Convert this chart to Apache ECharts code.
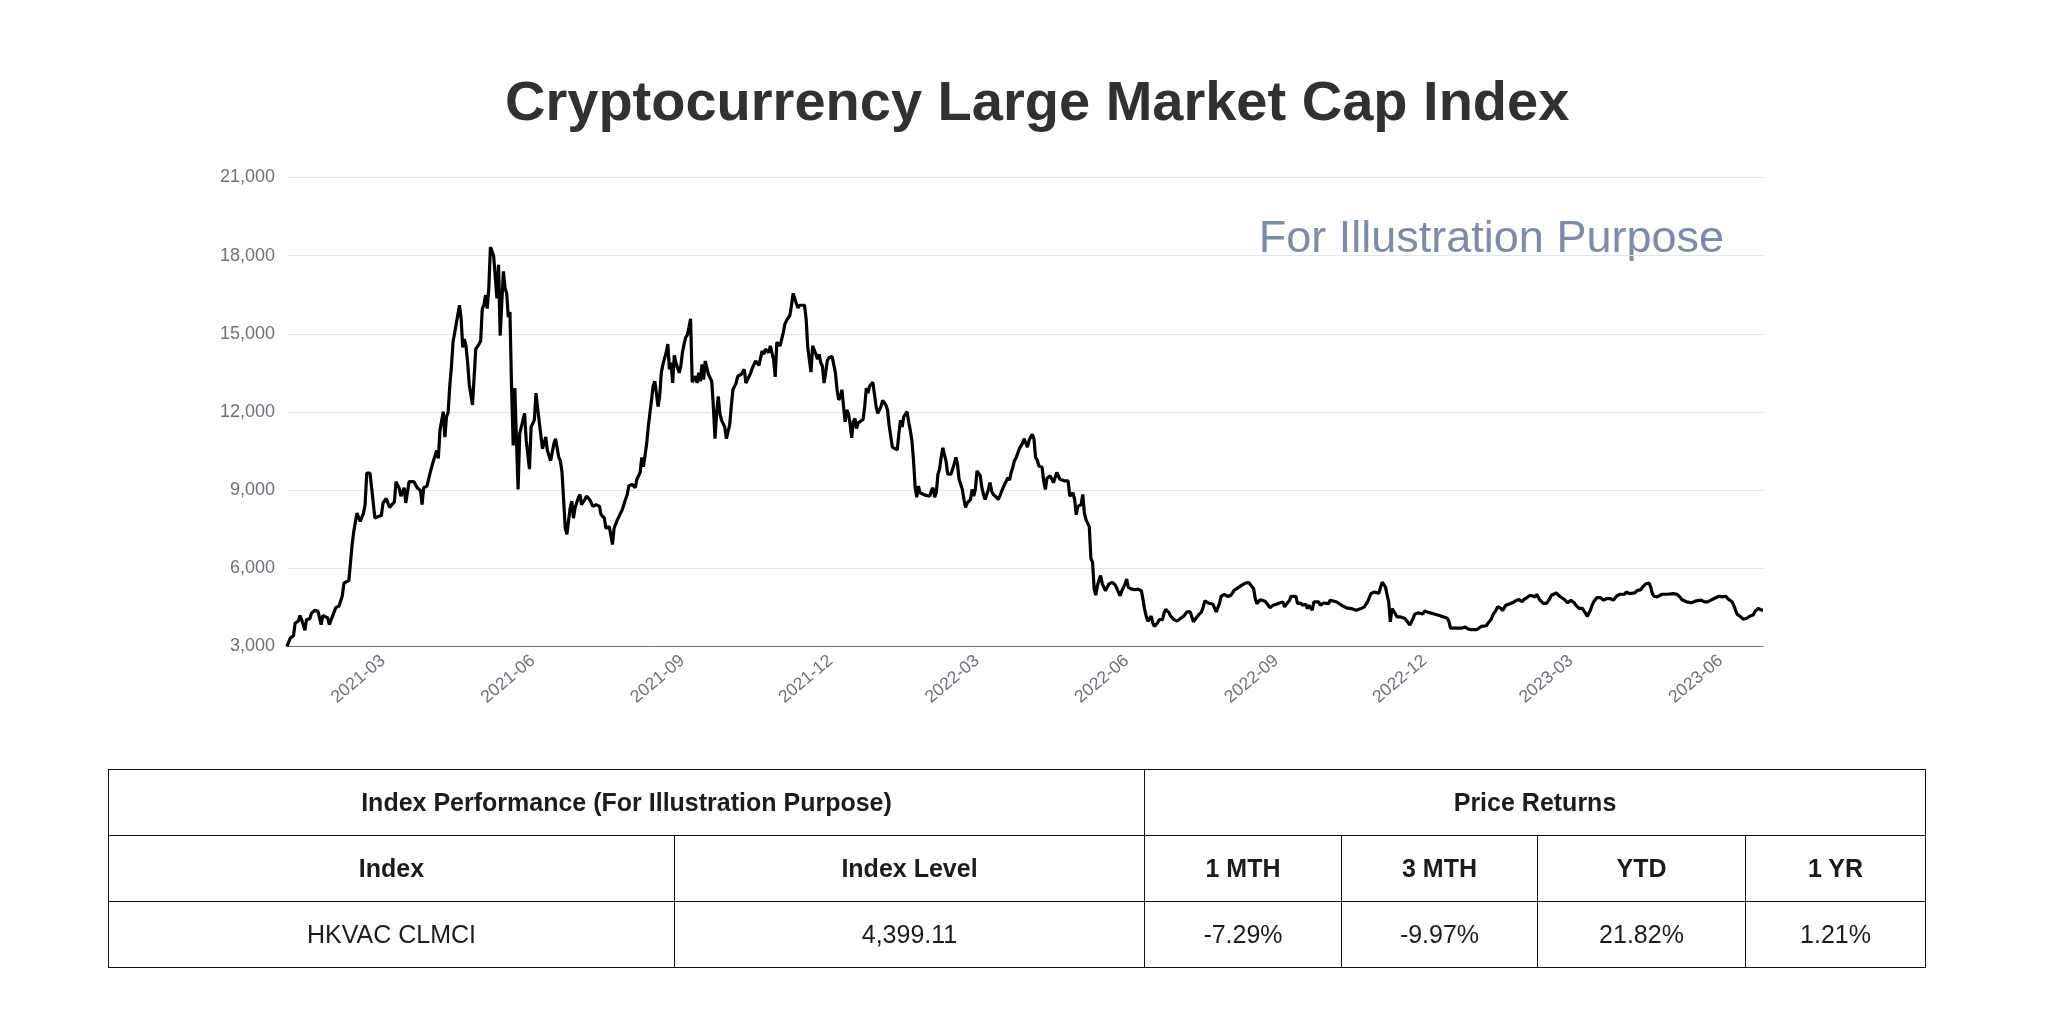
<!DOCTYPE html>
<html>
<head>
<meta charset="utf-8">
<script src="https://cdn.jsdelivr.net/npm/echarts@6/dist/echarts.min.js"></script>
<style>
html,body{margin:0;padding:0;background:#fff;width:2048px;height:1026px;overflow:hidden;font-family:"Liberation Sans",Arial,Helvetica,sans-serif;}
#chart{position:absolute;left:0;top:0;width:2048px;height:1026px;}
#perf{position:absolute;left:108px;top:769px;width:1817px;border-collapse:collapse;table-layout:fixed;font-size:25px;color:#1c1c1c;}
#perf td,#perf th{border:1.5px solid #111;text-align:center;padding:0;}
#perf tr{height:66px;}
#perf th{font-weight:bold;}
</style>
</head>
<body>
<div id="chart"></div>
<table id="perf"></table>
<script>
// ---------- data ----------
const chartTitle = 'Cryptocurrency Large Market Cap Index';
const watermarkText = 'For Illustration Purpose';
const startDate = '2021-01-01';
const endDate = '2023-06-27';
const xTickLabels = ['2021-03','2021-06','2021-09','2021-12','2022-03','2022-06','2022-09','2022-12','2023-03','2023-06'];
const yTicks = [3000, 6000, 9000, 12000, 15000, 18000, 21000];

const level2021H1 = [['2021-01-01',3000],['2021-01-03',3320],['2021-01-05',3410],['2021-01-06',3900],['2021-01-08',3970],['2021-01-09',4190],['2021-01-10',4035],['2021-01-12',3620],['2021-01-13',4035],['2021-01-15',4060],['2021-01-16',4270],['2021-01-18',4385],['2021-01-20',4360],['2021-01-22',3840],['2021-01-23',4190],['2021-01-26',4100],['2021-01-27',3840],['2021-01-29',4165],['2021-01-31',4490],['2021-02-02',4555],['2021-02-04',4945],['2021-02-05',5436],['2021-02-08',5527],['2021-02-10',6889],['2021-02-11',7407],['2021-02-13',8121],['2021-02-15',7797],['2021-02-16',7732],['2021-02-17',8121],['2021-02-18',8445],['2021-02-19',9651],['2021-02-21',9651],['2021-02-22',9094],['2021-02-24',7926],['2021-02-25',7861],['2021-02-26',7991],['2021-02-28',8030],['2021-03-01',8510],['2021-03-03',8678],['2021-03-05',8341],['2021-03-06',8290],['2021-03-08',8549],['2021-03-09',9327],['2021-03-11',9068],['2021-03-12',8769],['2021-03-14',9094],['2021-03-15',8510],['2021-03-17',9327],['2021-03-20',9327],['2021-03-22',9094],['2021-03-24',8990],['2021-03-25',8445],['2021-03-26',9094],['2021-03-28',9158],['2021-03-30',9677],['2021-04-01',10131],['2021-04-03',10520],['2021-04-04',10222],['2021-04-05',11298],['2021-04-07',12012],['2021-04-08',11039],['2021-04-09',11817],['2021-04-10',11973],['2021-04-11',12985],['2021-04-12',13698],['2021-04-13',14671],['2021-04-15',15384],['2021-04-17',16097],['2021-04-18',15579],['2021-04-19',14476],['2021-04-20',14800],['2021-04-21',14541],['2021-04-22',13892],['2021-04-23',13049],['2021-04-24',12985],['2021-04-25',12271],['2021-04-26',12206],['2021-04-27',14411],['2021-04-29',14606],['2021-04-30',14735],['2021-05-01',15968],['2021-05-02',16097],['2021-05-03',16486],['2021-05-04',15968],['2021-05-05',16746],['2021-05-06',18328],['2021-05-07',18173],['2021-05-08',17978],['2021-05-09',17978],['2021-05-10',16357],['2021-05-11',17654],['2021-05-12',14930],['2021-05-13',16227],['2021-05-14',17394],['2021-05-15',16746],['2021-05-16',16551],['2021-05-17',15643],['2021-05-18',15838],['2021-05-19',12920],['2021-05-20',10715],['2021-05-21',12920],['2021-05-22',10909],['2021-05-23',9029],['2021-05-24',11169],['2021-05-25',11169],['2021-05-27',11947],['2021-05-28',10909],['2021-05-30',9807],['2021-05-31',11428],['2021-06-02',11688],['2021-06-03',12725],['2021-06-05',11623],['2021-06-06',11558],['2021-06-07',10585],['2021-06-09',11039],['2021-06-10',10520],['2021-06-12',10131],['2021-06-13',10131],['2021-06-14',10780],['2021-06-15',10974],['2021-06-17',10261],['2021-06-18',10131],['2021-06-19',9677],['2021-06-20',9612],['2021-06-21',7537],['2021-06-22',7304],['2021-06-24',8315],['2021-06-25',8575],['2021-06-26',7926],['2021-06-27',8315],['2021-06-29',8704],['2021-06-30',8834]];

const level2021H2 = [['2021-07-01',8445],['2021-07-03',8640],['2021-07-04',8769],['2021-07-06',8640],['2021-07-08',8380],['2021-07-10',8445],['2021-07-12',8380],['2021-07-13',8056],['2021-07-15',7926],['2021-07-16',7537],['2021-07-17',7472],['2021-07-18',7602],['2021-07-19',7278],['2021-07-20',6915],['2021-07-21',7537],['2021-07-23',7861],['2021-07-25',8121],['2021-07-26',8250],['2021-07-28',8640],['2021-07-29',8808],['2021-07-30',9158],['2021-08-01',9223],['2021-08-03',9094],['2021-08-04',9418],['2021-08-06',9677],['2021-08-07',10261],['2021-08-08',9898],['2021-08-09',10326],['2021-08-10',10780],['2021-08-11',11428],['2021-08-12',11364],['2021-08-13',12466],['2021-08-14',12985],['2021-08-15',13179],['2021-08-16',12725],['2021-08-17',12206],['2021-08-18',12595],['2021-08-19',13503],['2021-08-20',13828],['2021-08-21',13892],['2021-08-22',14282],['2021-08-23',14606],['2021-08-24',13633],['2021-08-25',13892],['2021-08-26',13114],['2021-08-27',14178],['2021-08-28',13892],['2021-08-30',13503],['2021-08-31',13763],['2021-09-01',14282],['2021-09-02',14606],['2021-09-03',14865],['2021-09-04',14956],['2021-09-05',15254],['2021-09-06',15579],['2021-09-07',13140],['2021-09-09',13374],['2021-09-10',13114],['2021-09-11',13503],['2021-09-12',13179],['2021-09-13',13828],['2021-09-14',13244],['2021-09-15',13957],['2021-09-16',13698],['2021-09-17',13438],['2021-09-18',13374],['2021-09-19',13179],['2021-09-20',12206],['2021-09-21',10974],['2021-09-22',11947],['2021-09-23',12595],['2021-09-24',11947],['2021-09-25',11688],['2021-09-27',11428],['2021-09-28',10974],['2021-09-30',11493],['2021-10-01',12206],['2021-10-02',12855],['2021-10-03',12985],['2021-10-04',13114],['2021-10-05',13374],['2021-10-07',13438],['2021-10-08',13374],['2021-10-09',13633],['2021-10-10',13114],['2021-10-11',13179],['2021-10-13',13503],['2021-10-14',13698],['2021-10-15',13828],['2021-10-16',13957],['2021-10-17',13892],['2021-10-18',13789],['2021-10-19',13828],['2021-10-20',14346],['2021-10-21',14217],['2021-10-22',14411],['2021-10-23',14411],['2021-10-24',14282],['2021-10-25',14541],['2021-10-26',14541],['2021-10-27',14022],['2021-10-28',13348],['2021-10-29',14671],['2021-10-30',14735],['2021-10-31',14541],['2021-11-01',14800],['2021-11-02',15060],['2021-11-03',15384],['2021-11-04',15514],['2021-11-05',15579],['2021-11-06',15708],['2021-11-07',16097],['2021-11-08',16551],['2021-11-09',16512],['2021-11-10',16162],['2021-11-11',15994],['2021-11-12',16097],['2021-11-13',16032],['2021-11-15',16097],['2021-11-16',15579],['2021-11-17',14476],['2021-11-18',14411],['2021-11-19',13529],['2021-11-20',14541],['2021-11-21',14606],['2021-11-22',14217],['2021-11-23',14022],['2021-11-24',14217],['2021-11-25',13892],['2021-11-26',13763],['2021-11-27',13114],['2021-11-28',13503],['2021-11-29',13957],['2021-11-30',14087],['2021-12-02',14126],['2021-12-03',14087],['2021-12-04',13503],['2021-12-05',12855],['2021-12-06',12466],['2021-12-07',12569],['2021-12-08',12855],['2021-12-09',12206],['2021-12-10',11623],['2021-12-11',12077],['2021-12-12',11947],['2021-12-13',11558],['2021-12-14',11013],['2021-12-15',11623],['2021-12-16',11752],['2021-12-17',11363],['2021-12-18',11584],['2021-12-19',11623],['2021-12-21',11713],['2021-12-22',12206],['2021-12-23',12920],['2021-12-24',12725],['2021-12-25',12985],['2021-12-27',13140],['2021-12-28',13114],['2021-12-29',12206],['2021-12-30',11947],['2021-12-31',11921]];

const level2022H1 = [['2022-01-01',12206],['2022-01-02',12440],['2022-01-04',12271],['2022-01-05',12077],['2022-01-06',11493],['2022-01-07',11428],['2022-01-08',10650],['2022-01-09',10585],['2022-01-11',10546],['2022-01-12',11169],['2022-01-13',11688],['2022-01-14',11428],['2022-01-15',11817],['2022-01-17',12012],['2022-01-18',11623],['2022-01-19',11298],['2022-01-20',10909],['2022-01-21',10131],['2022-01-22',9094],['2022-01-23',8730],['2022-01-24',9158],['2022-01-25',8899],['2022-01-26',8860],['2022-01-28',8808],['2022-01-29',8834],['2022-01-31',8769],['2022-02-01',8990],['2022-02-02',9094],['2022-02-03',8730],['2022-02-04',8899],['2022-02-05',9612],['2022-02-06',9807],['2022-02-07',10261],['2022-02-08',10624],['2022-02-09',10585],['2022-02-10',10105],['2022-02-11',9612],['2022-02-13',9612],['2022-02-14',9677],['2022-02-15',10001],['2022-02-16',10261],['2022-02-17',10001],['2022-02-18',9418],['2022-02-19',9353],['2022-02-20',9029],['2022-02-21',8640],['2022-02-22',8341],['2022-02-23',8510],['2022-02-24',8510],['2022-02-25',8640],['2022-02-26',9029],['2022-02-27',8769],['2022-02-28',9029],['2022-03-01',9742],['2022-03-02',9807],['2022-03-03',9547],['2022-03-04',9094],['2022-03-05',8834],['2022-03-06',8640],['2022-03-07',8640],['2022-03-08',9029],['2022-03-09',9288],['2022-03-10',8964],['2022-03-11',8834],['2022-03-13',8730],['2022-03-14',8640],['2022-03-15',8769],['2022-03-16',8834],['2022-03-17',9094],['2022-03-18',9158],['2022-03-19',9353],['2022-03-20',9483],['2022-03-21',9379],['2022-03-22',9677],['2022-03-23',9872],['2022-03-24',10131],['2022-03-25',10235],['2022-03-26',10196],['2022-03-27',10585],['2022-03-28',10650],['2022-03-29',10806],['2022-03-30',10974],['2022-03-31',10909],['2022-04-01',10650],['2022-04-02',10909],['2022-04-03',11039],['2022-04-04',11143],['2022-04-05',10974],['2022-04-06',10261],['2022-04-07',10157],['2022-04-08',9937],['2022-04-09',9976],['2022-04-10',9872],['2022-04-11',9353],['2022-04-12',9029],['2022-04-13',9457],['2022-04-14',9418],['2022-04-15',9547],['2022-04-16',9483],['2022-04-17',9288],['2022-04-18',9483],['2022-04-19',9677],['2022-04-20',9612],['2022-04-21',9418],['2022-04-22',9379],['2022-04-24',9353],['2022-04-25',9288],['2022-04-26',9353],['2022-04-27',8769],['2022-04-28',8808],['2022-04-29',8899],['2022-04-30',8640],['2022-05-01',8056],['2022-05-02',8380],['2022-05-03',8380],['2022-05-04',8445],['2022-05-05',8834],['2022-05-06',8121],['2022-05-07',7861],['2022-05-09',7602],['2022-05-10',6370],['2022-05-11',6240],['2022-05-12',5203],['2022-05-13',4969],['2022-05-14',5332],['2022-05-15',5566],['2022-05-16',5721],['2022-05-17',5397],['2022-05-18',5462],['2022-05-19',5138],['2022-05-20',5203],['2022-05-21',5397],['2022-05-22',5332],['2022-05-23',5462],['2022-05-24',5397],['2022-05-25',5358],['2022-05-26',5306],['2022-05-27',5073],['2022-05-28',4943],['2022-05-29',5138],['2022-05-30',5267],['2022-05-31',5397],['2022-06-01',5592],['2022-06-02',5267],['2022-06-03',5203],['2022-06-04',5203],['2022-06-05',5267],['2022-06-06',5177],['2022-06-07',5203],['2022-06-08',5203],['2022-06-10',5138],['2022-06-11',4813],['2022-06-12',4424],['2022-06-13',4165],['2022-06-14',3970],['2022-06-15',4060],['2022-06-16',4165],['2022-06-17',3906],['2022-06-18',3776],['2022-06-19',3711],['2022-06-20',3906],['2022-06-21',4035],['2022-06-22',4060],['2022-06-23',4035],['2022-06-24',4295],['2022-06-25',4424],['2022-06-26',4398],['2022-06-27',4295],['2022-06-28',4165],['2022-06-30',4038]];

const level2022H2 = [['2022-07-02',3974],['2022-07-04',4076],['2022-07-06',4164],['2022-07-08',4329],['2022-07-10',4329],['2022-07-12',3949],['2022-07-13',4012],['2022-07-15',4202],['2022-07-17',4329],['2022-07-18',4519],['2022-07-19',4747],['2022-07-21',4671],['2022-07-22',4671],['2022-07-24',4620],['2022-07-25',4671],['2022-07-26',4329],['2022-07-28',4645],['2022-07-29',4924],['2022-07-31',5000],['2022-08-02',4924],['2022-08-03',4987],['2022-08-04',4962],['2022-08-06',5152],['2022-08-07',5177],['2022-08-09',5278],['2022-08-11',5367],['2022-08-13',5430],['2022-08-15',5456],['2022-08-16',5380],['2022-08-18',5215],['2022-08-19',4835],['2022-08-20',4645],['2022-08-22',4797],['2022-08-23',4772],['2022-08-25',4734],['2022-08-27',4582],['2022-08-28',4493],['2022-08-30',4582],['2022-09-01',4620],['2022-09-03',4671],['2022-09-04',4645],['2022-09-05',4709],['2022-09-06',4519],['2022-09-07',4455],['2022-09-09',4772],['2022-09-10',4924],['2022-09-11',5000],['2022-09-13',4924],['2022-09-14',4645],['2022-09-16',4671],['2022-09-17',4582],['2022-09-19',4620],['2022-09-20',4455],['2022-09-21',4582],['2022-09-23',4392],['2022-09-24',4709],['2022-09-25',4645],['2022-09-27',4709],['2022-09-28',4582],['2022-09-30',4671],['2022-10-01',4620],['2022-10-03',4645],['2022-10-04',4772],['2022-10-06',4747],['2022-10-08',4709],['2022-10-09',4709],['2022-10-11',4582],['2022-10-12',4519],['2022-10-14',4481],['2022-10-15',4481],['2022-10-17',4455],['2022-10-18',4455],['2022-10-20',4392],['2022-10-21',4367],['2022-10-23',4455],['2022-10-24',4455],['2022-10-25',4519],['2022-10-27',4709],['2022-10-28',4772],['2022-10-29',5025],['2022-10-31',5088],['2022-11-01',5126],['2022-11-03',5051],['2022-11-04',5278],['2022-11-05',5468],['2022-11-06',5405],['2022-11-07',5278],['2022-11-08',5215],['2022-11-09',4709],['2022-11-10',3949],['2022-11-11',4455],['2022-11-12',4392],['2022-11-13',4266],['2022-11-14',4139],['2022-11-16',4139],['2022-11-17',4114],['2022-11-19',4076],['2022-11-20',4101],['2022-11-21',3911],['2022-11-22',3822],['2022-11-24',4076],['2022-11-25',4240],['2022-11-27',4291],['2022-11-28',4266],['2022-11-30',4249],['2022-12-01',4362],['2022-12-02',4337],['2022-12-04',4299],['2022-12-05',4274],['2022-12-07',4249],['2022-12-09',4211],['2022-12-10',4173],['2022-12-12',4148],['2022-12-13',4123],['2022-12-15',4085],['2022-12-16',3959],['2022-12-17',3707],['2022-12-18',3644],['2022-12-19',3707],['2022-12-20',3669],['2022-12-22',3707],['2022-12-24',3707],['2022-12-26',3745],['2022-12-28',3669],['2022-12-30',3644],['2022-12-31',3619]];

const level2023H1 = [['2023-01-02',3644],['2023-01-03',3707],['2023-01-05',3770],['2023-01-06',3745],['2023-01-08',3795],['2023-01-09',3896],['2023-01-11',4047],['2023-01-12',4211],['2023-01-14',4400],['2023-01-15',4526],['2023-01-17',4463],['2023-01-18',4375],['2023-01-19',4337],['2023-01-20',4589],['2023-01-21',4652],['2023-01-22',4627],['2023-01-24',4677],['2023-01-25',4715],['2023-01-26',4753],['2023-01-28',4803],['2023-01-29',4778],['2023-01-30',4715],['2023-01-31',4803],['2023-02-02',4879],['2023-02-03',4904],['2023-02-04',4967],['2023-02-05',5005],['2023-02-07',4904],['2023-02-08',5005],['2023-02-09',4967],['2023-02-10',4778],['2023-02-12',4652],['2023-02-13',4589],['2023-02-14',4652],['2023-02-15',4627],['2023-02-16',4841],['2023-02-17',4967],['2023-02-18',5030],['2023-02-20',5055],['2023-02-21',5005],['2023-02-22',4929],['2023-02-23',4904],['2023-02-25',4803],['2023-02-26',4753],['2023-02-27',4677],['2023-03-01',4778],['2023-03-02',4715],['2023-03-03',4677],['2023-03-04',4589],['2023-03-05',4526],['2023-03-06',4463],['2023-03-07',4488],['2023-03-08',4463],['2023-03-09',4400],['2023-03-10',4274],['2023-03-11',4148],['2023-03-12',4173],['2023-03-13',4400],['2023-03-14',4589],['2023-03-15',4715],['2023-03-16',4652],['2023-03-17',4879],['2023-03-18',4803],['2023-03-19',4879],['2023-03-21',4778],['2023-03-23',4841],['2023-03-24',4803],['2023-03-25',4841],['2023-03-27',4778],['2023-03-28',4841],['2023-03-29',4929],['2023-03-31',5005],['2023-04-01',5030],['2023-04-03',5005],['2023-04-04',5093],['2023-04-06',5030],['2023-04-07',4967],['2023-04-09',5055],['2023-04-10',5093],['2023-04-11',5156],['2023-04-13',5181],['2023-04-14',5282],['2023-04-15',5345],['2023-04-16',5408],['2023-04-17',5433],['2023-04-18',5433],['2023-04-19',5282],['2023-04-20',5030],['2023-04-21',4929],['2023-04-23',4904],['2023-04-24',4967],['2023-04-26',5005],['2023-04-27',4967],['2023-04-29',5005],['2023-04-30',4967],['2023-05-03',5030],['2023-05-05',5005],['2023-05-06',4967],['2023-05-07',4904],['2023-05-08',4803],['2023-05-09',4778],['2023-05-11',4715],['2023-05-12',4652],['2023-05-14',4677],['2023-05-15',4715],['2023-05-17',4753],['2023-05-18',4753],['2023-05-20',4778],['2023-05-22',4715],['2023-05-23',4753],['2023-05-24',4715],['2023-05-26',4778],['2023-05-28',4841],['2023-05-29',4904],['2023-05-31',4929],['2023-06-01',4879],['2023-06-02',4904],['2023-06-04',4929],['2023-06-05',4967],['2023-06-06',4803],['2023-06-08',4715],['2023-06-09',4589],['2023-06-10',4526],['2023-06-11',4249],['2023-06-13',4148],['2023-06-14',4110],['2023-06-15',4047],['2023-06-17',4085],['2023-06-18',4148],['2023-06-19',4173],['2023-06-21',4211],['2023-06-22',4337],['2023-06-23',4400],['2023-06-24',4463],['2023-06-25',4463],['2023-06-26',4400],['2023-06-27',4399.11]];

// table content
const tableGroupHeaders = ['Index Performance (For Illustration Purpose)', 'Price Returns'];
const tableColumnHeaders = ['Index', 'Index Level', '1 MTH', '3 MTH', 'YTD', '1 YR'];
const tableRow = ['HKVAC CLMCI', '4,399.11', '-7.29%', '-9.97%', '21.82%', '1.21%'];

// ---------- build ----------
function buildDays(a, b) {
  const out = [];
  let t = Date.parse(a + 'T00:00:00Z');
  const e = Date.parse(b + 'T00:00:00Z');
  while (t <= e) { out.push(new Date(t).toISOString().slice(0, 10)); t += 86400000; }
  return out;
}
const dayCategories = buildDays(startDate, endDate);
const seriesData = [].concat(level2021H1, level2021H2, level2022H1, level2022H2, level2023H1);

const FONT = '"Liberation Sans", Arial, Helvetica, sans-serif';
const chart = echarts.init(document.getElementById('chart'), null, { renderer: 'canvas' });
chart.setOption({
  animation: false,
  backgroundColor: '#ffffff',
  title: {
    text: chartTitle,
    left: 505, top: 77, padding: 0,
    textStyle: { fontSize: 56, fontWeight: 'bold', color: '#303133', fontFamily: FONT }
  },
  graphic: [{
    type: 'text', x: 1724, y: 240, silent: true,
    style: {
      text: watermarkText, fill: '#7d8ca6',
      fontSize: 45, fontFamily: FONT,
      align: 'right', verticalAlign: 'middle',
      textAlign: 'right', textVerticalAlign: 'middle'
    }
  }],
  grid: { left: 287, right: 285, top: 177.5, bottom: 379.5, containLabel: false, outerBoundsMode: 'none' },
  xAxis: {
    type: 'category',
    data: dayCategories,
    boundaryGap: false,
    axisLine: { show: true, lineStyle: { color: '#6E7079', width: 1 } },
    axisTick: { show: false },
    splitLine: { show: false },
    axisLabel: {
      interval: function (i, v) { return v.slice(8) === '01' && xTickLabels.indexOf(v.slice(0, 7)) >= 0; },
      formatter: function (v) { return v.slice(0, 7); },
      rotate: 40, margin: 12,
      color: '#6E7079', fontSize: 17.5, fontFamily: FONT
    }
  },
  yAxis: {
    type: 'value',
    min: yTicks[0], max: yTicks[yTicks.length - 1], interval: 3000,
    axisLine: { show: false },
    axisTick: { show: false },
    splitLine: { show: true, lineStyle: { color: '#E0E6F1', width: 1 } },
    axisLabel: {
      margin: 12, color: '#6E7079', fontSize: 18, fontFamily: FONT,
      formatter: function (v) { return v.toLocaleString('en-US'); }
    }
  },
  series: [{
    name: 'HKVAC CLMCI',
    type: 'line',
    data: seriesData,
    showSymbol: false,
    symbol: 'none',
    lineStyle: { color: '#000000', width: 3.2 },
    itemStyle: { color: '#000000' }
  }]
});

// table
const widths = [566, 470, 197, 196, 208, 180];
const tbl = document.getElementById('perf');
let html = '<colgroup>' + widths.map(w => '<col style="width:' + w + 'px">').join('') + '</colgroup>';
html += '<tr><th colspan="2">' + tableGroupHeaders[0] + '</th><th colspan="4">' + tableGroupHeaders[1] + '</th></tr>';
html += '<tr>' + tableColumnHeaders.map(h => '<th>' + h + '</th>').join('') + '</tr>';
html += '<tr>' + tableRow.map(c => '<td>' + c + '</td>').join('') + '</tr>';
tbl.innerHTML = html;
</script>
</body>
</html>
